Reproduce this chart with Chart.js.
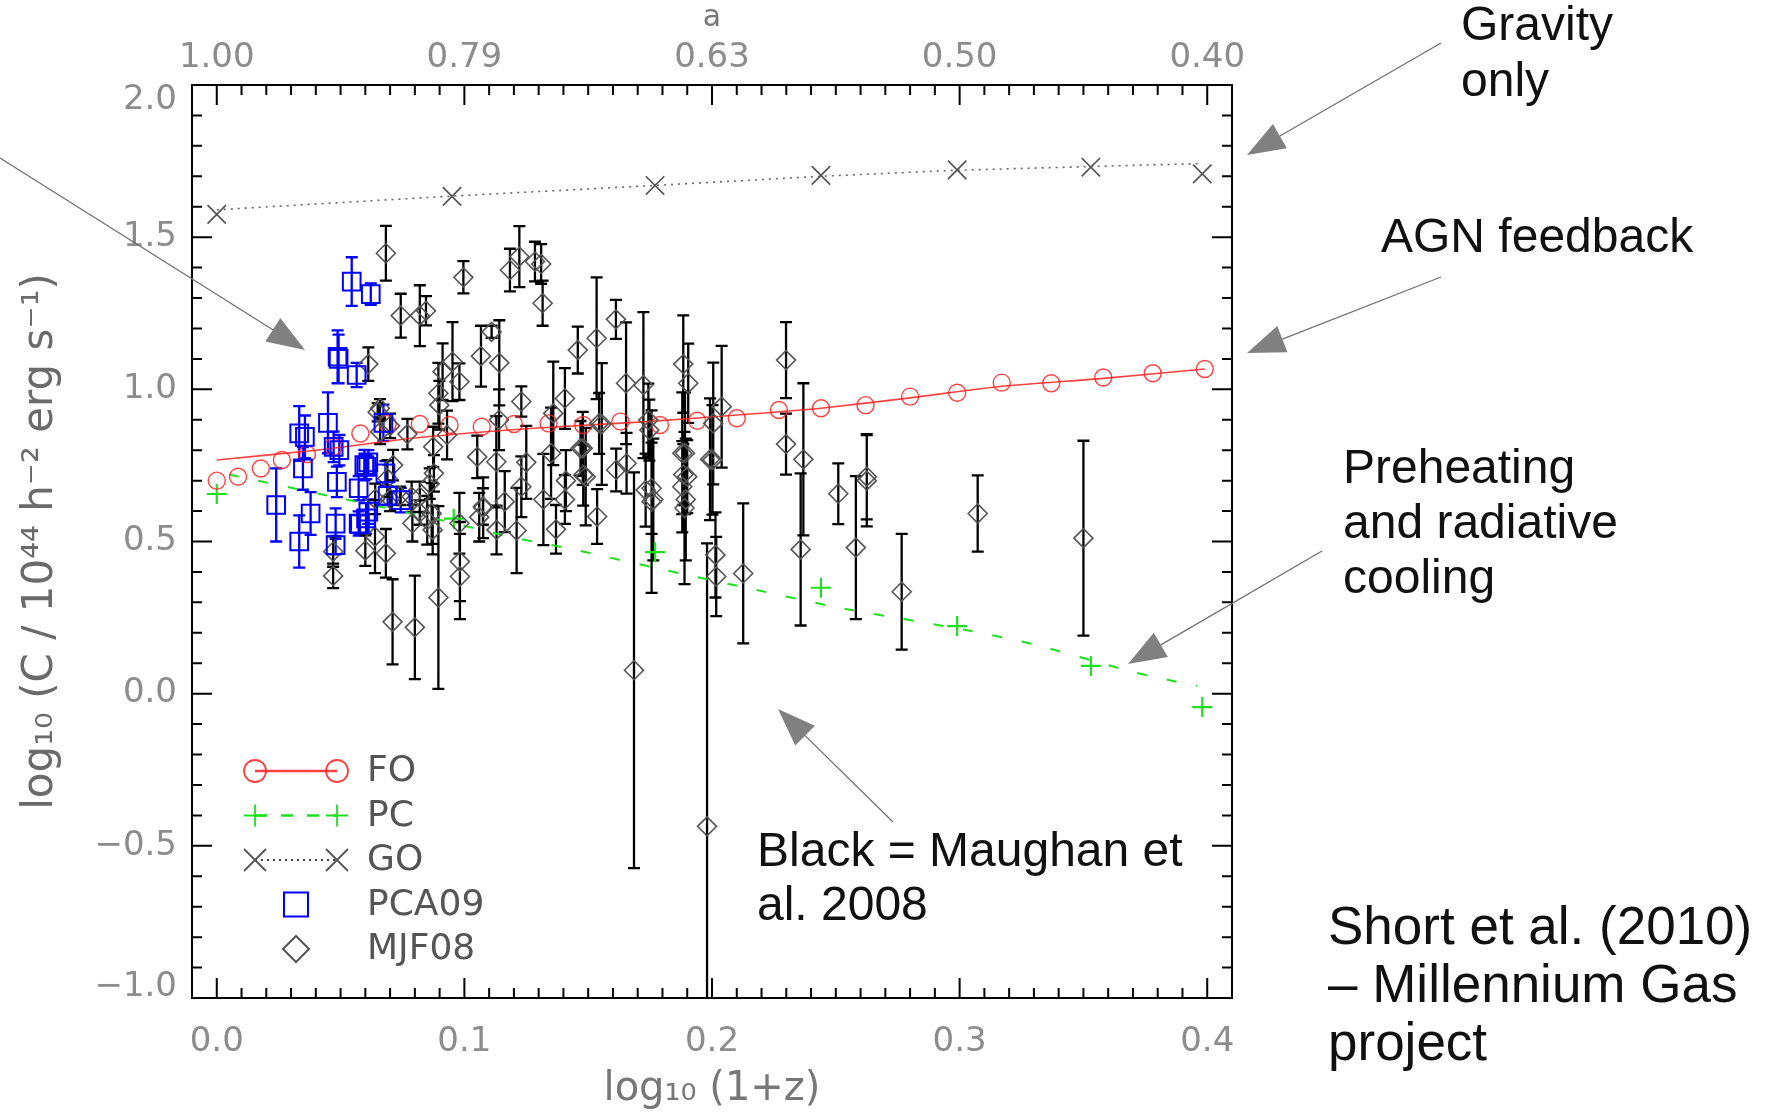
<!DOCTYPE html>
<html>
<head>
<meta charset="utf-8">
<script src="https://cdn.jsdelivr.net/npm/chart.js@4.4.1/dist/chart.umd.min.js"></script>
<style>
  html, body { margin: 0; padding: 0; background: #fff; }
  #wrap { width: 1772px; height: 1114px; position: relative; }
</style>
</head>
<body>
<div id="wrap"><canvas id="cChart"></canvas></div>
<script>
// axis ticks
const xTickVals = [0.0, 0.1, 0.2, 0.3, 0.4];
const aTickLabels = ['1.00', '0.79', '0.63', '0.50', '0.40'];
const yTickVals = [-1.0, -0.5, 0.0, 0.5, 1.0, 1.5, 2.0];

// FO - AGN feedback (markers + line)
const foX = [0.0, 0.0086, 0.0178, 0.0263, 0.0364, 0.047, 0.058, 0.069, 0.082, 0.094, 0.107, 0.12, 0.134, 0.148,
  0.163, 0.179, 0.194, 0.21, 0.227, 0.244, 0.262, 0.28, 0.299, 0.317, 0.337, 0.358, 0.378, 0.399];
const foY = [0.70, 0.713, 0.74, 0.768, 0.787, 0.811, 0.855, 0.886, 0.886, 0.883, 0.877, 0.886, 0.888, 0.883,
  0.894, 0.883, 0.897, 0.905, 0.932, 0.938, 0.948, 0.976, 0.989, 1.022, 1.020, 1.039, 1.053, 1.067];
const foLineX = [0.0, 0.04, 0.08, 0.128, 0.174, 0.214, 0.244, 0.28, 0.317, 0.358, 0.399];
const foLineY = [0.768, 0.80, 0.84, 0.872, 0.894, 0.918, 0.938, 0.972, 1.01, 1.036, 1.067];

// PC - preheating + cooling
const pcX = [0.0, 0.0957, 0.177, 0.244, 0.299, 0.353, 0.398];
const pcY = [0.656, 0.575, 0.465, 0.348, 0.222, 0.091, -0.044];
const pcLineX = [0.005, 0.047, 0.085, 0.118, 0.144, 0.18, 0.215, 0.251, 0.302, 0.331, 0.371, 0.396];
const pcLineY = [0.72, 0.647, 0.581, 0.516, 0.474, 0.408, 0.346, 0.283, 0.21, 0.16, 0.069, 0.025];

// GO - gravity only
const goX = [0.0, 0.095, 0.177, 0.244, 0.299, 0.353, 0.398];
const goY = [1.575, 1.634, 1.67, 1.703, 1.721, 1.73, 1.708];
const goLineX = [0.0, 0.095, 0.177, 0.244, 0.299, 0.353, 0.398];
const goLineY = [1.59, 1.635, 1.67, 1.70, 1.72, 1.732, 1.742];

// PCA09 (blue squares)
const pcaX = [0.0545, 0.0622, 0.0488, 0.0492, 0.0565, 0.0333, 0.0356, 0.0449, 0.0348, 0.0472, 0.0495, 0.0485,
  0.0573, 0.0596, 0.0604, 0.0673, 0.0681, 0.0743, 0.024, 0.0333, 0.0379, 0.048, 0.048, 0.0573, 0.0603, 0.0612,
  0.0612, 0.0578, 0.069];
const pcaY = [1.354, 1.313, 1.107, 1.10, 1.047, 0.855, 0.844, 0.890, 0.740, 0.811, 0.800, 0.696,
  0.675, 0.751, 0.745, 0.890, 0.724, 0.636, 0.62, 0.500, 0.592, 0.559, 0.488, 0.559, 0.576, 0.598,
  0.760, 0.557, 0.650];
const pcaErr = [0.08, 0.035, 0.087, 0.08, 0.04, 0.09, 0.07, 0.10, 0.07, 0.05, 0.05, 0.05,
  0.04, 0.05, 0.04, 0.06, 0.04, 0.04, 0.12, 0.086, 0.07, 0.05, 0.03, 0.04, 0.05, 0.04,
  0.04, 0.03, 0.03];

// MJF08 (black diamonds, Maughan et al. 2008)
const mjfX = [0.0683, 0.0743, 0.082, 0.0845, 0.0996, 0.1184, 0.1222, 0.1285, 0.131, 0.1316, 0.0612, 0.0659,
  0.0912, 0.0952, 0.098, 0.0895, 0.0899, 0.1067, 0.111, 0.1141, 0.1359, 0.1406, 0.1458, 0.1534, 0.1612, 0.1653,
  0.1723, 0.1884, 0.1904, 0.2039, 0.2005, 0.2299, 0.2299, 0.2369, 0.1555, 0.1478, 0.1891, 0.1992, 0.1743, 0.047,
  0.047, 0.0639, 0.0683, 0.071, 0.08, 0.0895, 0.0982, 0.0982, 0.1076, 0.1163, 0.113, 0.1211, 0.1319, 0.1406,
  0.0877, 0.0872, 0.0868, 0.082, 0.0787, 0.065, 0.0712, 0.0689, 0.0874, 0.1052, 0.1075, 0.1129, 0.135, 0.1469,
  0.149, 0.1544, 0.1536, 0.1613, 0.1655, 0.1685, 0.1732, 0.1763, 0.1747, 0.188, 0.188, 0.1894, 0.19, 0.2002,
  0.2014, 0.2017, 0.2126, 0.198, 0.148, 0.2358, 0.251, 0.2581, 0.2625, 0.2625, 0.3073, 0.35, 0.2766, 0.1756,
  0.1756, 0.1884, 0.1889, 0.07, 0.074, 0.079, 0.082, 0.085, 0.086, 0.093, 0.077, 0.07, 0.123, 0.114, 0.125,
  0.123, 0.137, 0.098, 0.106, 0.06, 0.064, 0.141, 0.066];
const mjfY = [1.447, 1.242, 1.242, 1.258, 1.368, 1.392, 1.436, 1.42, 1.412, 1.283, 1.083, 0.938,
  1.058, 1.091, 1.025, 0.987, 0.948, 1.109, 1.189, 1.087, 0.921, 0.97, 1.129, 1.168, 1.23, 1.02,
  1.014, 1.083, 1.02, 0.943, 0.888, 1.096, 0.82, 0.77, 0.886, 0.806, 0.79, 0.77, 0.899, 0.467,
  0.387, 0.516, 0.461, 0.236, 0.218, 0.316, 0.434, 0.385, 0.611, 0.631, 0.538, 0.536, 0.638, 0.638,
  0.724, 0.538, 0.592, 0.647, 0.647, 0.925, 0.751, 0.707, 0.811, 0.778, 0.615, 0.762, 0.79, 0.806,
  0.713, 0.888, 0.582, 0.735, 0.757, 0.077, 0.669, 0.638, 0.866, 0.79, 0.68, 0.638, 0.713, 0.768,
  0.456, 0.385, 0.395, -0.436, 0.718, 0.474, 0.657, 0.48, 0.713, 0.70, 0.592, 0.511, 0.335, 0.675,
  0.631, 0.72, 0.61, 0.64, 0.65, 0.56, 0.595, 0.57, 0.69, 0.85, 0.853, 0.88, 0.96, 0.90, 0.76,
  0.68, 0.54, 0.56, 0.58, 0.47, 0.64, 0.70, 0.86];
const mjfErr = [0.09, 0.072, 0.10, 0.048, 0.053, 0.07, 0.10, 0.065, 0.065, 0.074, 0.055, 0.03,
  0.093, 0.13, 0.06, 0.10, 0.08, 0.10, 0.02, 0.14, 0.17, 0.10, 0.077, 0.20, 0.064, 0.20,
  0.24, 0.16, 0.13, 0.20, 0.20, 0.125, 0.10, 0.25, 0.20, 0.12, 0.20, 0.20, 0.12, 0.05,
  0.04, 0.12, 0.08, 0.14, 0.17, 0.30, 0.13, 0.14, 0.10, 0.10, 0.08, 0.14, 0.15, 0.08,
  0.06, 0.08, 0.10, 0.05, 0.05, 0.03, 0.05, 0.06, 0.066, 0.07, 0.06, 0.15, 0.15, 0.09,
  0.16, 0.10, 0.09, 0.07, 0.10, 0.65, 0.12, 0.20, 0.10, 0.20, 0.15, 0.20, 0.12, 0.18,
  0.14, 0.13, 0.23, 0.93, 0.10, 0.25, 0.10, 0.235, 0.14, 0.15, 0.125, 0.32, 0.19, 0.15,
  0.30, 0.10, 0.25, 0.04, 0.03, 0.06, 0.04, 0.08, 0.05, 0.08, 0.05, 0.04, 0.05, 0.10, 0.12,
  0.10, 0.08, 0.10, 0.08, 0.05, 0.05, 0.10, 0.04];

const pts = (xs, ys) => xs.map((v, i) => ({ x: v, y: ys[i] }));

// colours
const RED = 'rgba(255,30,30,0.85)';
const GREEN = '#1fe01f';
const GREY = '#555555';
const BLUE = '#0000ff';
const TICKGREY = '#8c8c8c';

const fmt = v => (v < 0 ? '\u2212' : '') + Math.abs(v).toFixed(1);

// inward IDL style ticks + box, y labels (end labels pulled inside like IDL)
const boxTicks = {
  id: 'boxTicks',
  afterDraw(chart) {
    const { ctx, chartArea: a, scales } = chart;
    const sx = scales.x, sy = scales.y;
    ctx.save();
    ctx.strokeStyle = '#000';
    ctx.lineWidth = 2;
    ctx.beginPath();
    for (let i = 0; i <= 40; i++) {
      const px = sx.getPixelForValue(i / 100);
      const len = (i % 10 === 0) ? 20 : 10;
      ctx.moveTo(px, a.bottom); ctx.lineTo(px, a.bottom - len);
      ctx.moveTo(px, a.top); ctx.lineTo(px, a.top + len);
    }
    for (let i = -10; i <= 20; i++) {
      const py = sy.getPixelForValue(i / 10);
      const len = (i % 5 === 0) ? 20 : 10;
      ctx.moveTo(a.left, py); ctx.lineTo(a.left + len, py);
      ctx.moveTo(a.right, py); ctx.lineTo(a.right - len, py);
    }
    ctx.stroke();
    ctx.strokeRect(a.left, a.top, a.right - a.left, a.bottom - a.top);

    ctx.fillStyle = TICKGREY;
    ctx.font = '34px "DejaVu Sans"';
    ctx.textAlign = 'right';
    ctx.textBaseline = 'middle';
    yTickVals.forEach(v => {
      let py = sy.getPixelForValue(v);
      py = Math.min(Math.max(py, a.top + 15), a.bottom - 11);
      ctx.fillText(fmt(v), a.left - 15, py);
    });
    ctx.restore();
  }
};

// error bars with caps
const errorBars = {
  id: 'errorBars',
  beforeDatasetsDraw(chart) {
    const { ctx, chartArea: a, scales: { x, y } } = chart;
    chart.data.datasets.forEach((ds, i) => {
      if (!ds.errors || !chart.isDatasetVisible(i)) return;
      ctx.save();
      ctx.beginPath();
      ctx.rect(a.left, a.top, a.right - a.left, a.bottom - a.top);
      ctx.clip();
      ctx.strokeStyle = ds.errColor;
      ctx.lineWidth = 2.3;
      ctx.beginPath();
      ds.data.forEach((p, j) => {
        const e = ds.errors[j];
        const px = x.getPixelForValue(p.x);
        const t = y.getPixelForValue(p.y + e), b = y.getPixelForValue(p.y - e);
        ctx.moveTo(px, t); ctx.lineTo(px, b);
        ctx.moveTo(px - 6, t); ctx.lineTo(px + 6, t);
        ctx.moveTo(px - 6, b); ctx.lineTo(px + 6, b);
      });
      ctx.stroke();
      ctx.restore();
    });
  }
};

// marker drawing for the legend
function marker(ctx, kind, x, y, r) {
  ctx.beginPath();
  if (kind === 'circle') ctx.arc(x, y, r, 0, Math.PI * 2);
  if (kind === 'plus') { ctx.moveTo(x - r, y); ctx.lineTo(x + r, y); ctx.moveTo(x, y - r); ctx.lineTo(x, y + r); }
  if (kind === 'x') { ctx.moveTo(x - r, y - r); ctx.lineTo(x + r, y + r); ctx.moveTo(x - r, y + r); ctx.lineTo(x + r, y - r); }
  if (kind === 'square') ctx.rect(x - r, y - r, 2 * r, 2 * r);
  if (kind === 'diamond') { ctx.moveTo(x, y - r); ctx.lineTo(x + r, y); ctx.lineTo(x, y + r); ctx.lineTo(x - r, y); ctx.closePath(); }
  ctx.stroke();
}

const legendRows = [
  { label: 'FO', kind: 'circle', color: RED, dash: [], pair: true, r: 11 },
  { label: 'PC', kind: 'plus', color: GREEN, dash: [12, 14], pair: true, r: 11 },
  { label: 'GO', kind: 'x', color: GREY, dash: [2, 4], pair: true, r: 11 },
  { label: 'PCA09', kind: 'square', color: BLUE, pair: false, r: 12 },
  { label: 'MJF08', kind: 'diamond', color: GREY, pair: false, r: 13 }
];

const idlLegend = {
  id: 'idlLegend',
  afterDraw(chart) {
    const { ctx, chartArea: a } = chart;
    ctx.save();
    legendRows.forEach((row, k) => {
      const yy = a.bottom - 227 + k * 44.5;
      const x1 = a.left + 63, x2 = a.left + 145;
      ctx.strokeStyle = row.color;
      ctx.lineWidth = 2;
      if (row.pair) {
        ctx.setLineDash(row.dash);
        ctx.strokeStyle = row.kind === 'x' ? '#000' : row.color;
        ctx.lineWidth = row.kind === 'x' ? 1.5 : 2.5;
        ctx.beginPath(); ctx.moveTo(x1, yy); ctx.lineTo(x2, yy); ctx.stroke();
        ctx.setLineDash([]);
        ctx.strokeStyle = row.color;
        ctx.lineWidth = 1.8;
        marker(ctx, row.kind, x1, yy, row.r);
        marker(ctx, row.kind, x2, yy, row.r);
      } else {
        marker(ctx, row.kind, (x1 + x2) / 2, yy, row.r);
      }
      ctx.fillStyle = '#555';
      ctx.font = '36px "DejaVu Sans"';
      ctx.textBaseline = 'middle';
      ctx.fillText(row.label, a.left + 175, yy + 1);
    });
    ctx.restore();
  }
};

// annotation texts and arrows (canvas pixels)
const noteTexts = [
  { lines: ['Gravity', 'only'], x: 1461, y: 27, size: 48, gap: 56 },
  { lines: ['AGN feedback'], x: 1381, y: 239, size: 48, gap: 56 },
  { lines: ['Preheating', 'and radiative', 'cooling'], x: 1343, y: 470, size: 48, gap: 55 },
  { lines: ['Black = Maughan et', 'al. 2008'], x: 757, y: 853, size: 48, gap: 54 },
  { lines: ['Short et al. (2010)', '\u2013 Millennium Gas', 'project'], x: 1328, y: 929, size: 53, gap: 58 }
];
const noteArrows = [
  { from: [1441, 43], to: [1247, 155] },
  { from: [1441, 277], to: [1247, 353] },
  { from: [1322, 551], to: [1128, 664] },
  { from: [893, 822], to: [778, 709] },
  { from: [0, 158], to: [305, 350] }
];

const notes = {
  id: 'notes',
  afterDraw(chart) {
    const { ctx } = chart;
    ctx.save();
    ctx.fillStyle = '#111';
    ctx.textBaseline = 'middle';
    noteTexts.forEach(n => {
      ctx.font = n.size + 'px "Liberation Sans"';
      n.lines.forEach((s, i) => ctx.fillText(s, n.x, n.y + i * n.gap));
    });
    noteArrows.forEach(ar => {
      const [x0, y0] = ar.from, [x1, y1] = ar.to;
      const ang = Math.atan2(y1 - y0, x1 - x0);
      const L = 38, W = 14;
      const bx = x1 - L * Math.cos(ang), by = y1 - L * Math.sin(ang);
      ctx.strokeStyle = '#707070';
      ctx.lineWidth = 1.3;
      ctx.beginPath(); ctx.moveTo(x0, y0); ctx.lineTo(bx, by); ctx.stroke();
      ctx.fillStyle = '#808080';
      ctx.beginPath();
      ctx.moveTo(x1, y1);
      ctx.lineTo(bx + W * Math.sin(ang), by - W * Math.cos(ang));
      ctx.lineTo(bx - W * Math.sin(ang), by + W * Math.cos(ang));
      ctx.closePath();
      ctx.fill();
    });
    ctx.restore();
  }
};

const tickFont = { family: 'DejaVu Sans', size: 34 };

new Chart(document.getElementById('cChart'), {
  type: 'scatter',
  data: {
    datasets: [
      {
        label: 'PCA09', data: pts(pcaX, pcaY), errors: pcaErr, errColor: BLUE,
        pointStyle: 'rect', pointRadius: 12.5, borderColor: BLUE, borderWidth: 2,
        backgroundColor: 'transparent', showLine: false
      },
      {
        label: 'MJF08', data: pts(mjfX, mjfY), errors: mjfErr, errColor: '#000',
        pointStyle: 'rectRot', pointRadius: 9.5, borderColor: GREY, borderWidth: 1.6,
        backgroundColor: 'transparent', showLine: false
      },
      {
        label: 'FO', data: pts(foX, foY), pointStyle: 'circle', pointRadius: 8.5,
        borderColor: RED, borderWidth: 1.4, backgroundColor: 'transparent', showLine: false
      },
      {
        label: 'FO line', type: 'line', data: pts(foLineX, foLineY), pointRadius: 0,
        borderColor: RED, borderWidth: 1.6, fill: false, tension: 0.2
      },
      {
        label: 'PC', data: pts(pcX, pcY), pointStyle: 'cross', pointRadius: 10,
        borderColor: GREEN, borderWidth: 2.2, showLine: false
      },
      {
        label: 'PC line', type: 'line', data: pts(pcLineX, pcLineY), pointRadius: 0,
        borderColor: GREEN, borderWidth: 2, borderDash: [10, 20], fill: false, tension: 0.2
      },
      {
        label: 'GO', data: pts(goX, goY), pointStyle: 'crossRot', pointRadius: 13,
        borderColor: GREY, borderWidth: 1.7, showLine: false
      },
      {
        label: 'GO line', type: 'line', data: pts(goLineX, goLineY), pointRadius: 0,
        borderColor: '#666', borderWidth: 1.6, borderDash: [2, 5], fill: false
      }
    ]
  },
  options: {
    responsive: true,
    maintainAspectRatio: false,
    animation: false,
    layout: { padding: 0 },
    plugins: { legend: { display: false }, tooltip: { enabled: false } },
    scales: {
      x: {
        type: 'linear', position: 'bottom', min: -0.01, max: 0.41,
        afterBuildTicks: s => { s.ticks = xTickVals.map(v => ({ value: v })); },
        afterFit: s => { s.height = 116; },
        grid: { display: false, drawTicks: false },
        border: { display: false },
        ticks: { color: TICKGREY, font: tickFont, padding: 24, maxRotation: 0, callback: v => v.toFixed(1) },
        title: { display: true, text: 'log\u2081\u2080 (1+z)', color: '#777', font: { family: 'DejaVu Sans', size: 40 }, padding: { bottom: 0 } }
      },
      x2: {
        type: 'linear', position: 'top', min: -0.01, max: 0.41,
        afterBuildTicks: s => { s.ticks = xTickVals.map(v => ({ value: v })); },
        afterFit: s => { s.height = 85; },
        grid: { display: false, drawTicks: false },
        border: { display: false },
        ticks: { color: TICKGREY, font: tickFont, padding: 6, maxRotation: 0,
          callback: (v, i) => aTickLabels[i] },
        title: { display: true, text: 'a', color: '#777', font: { family: 'DejaVu Sans', size: 30 }, padding: { top: 0 } }
      },
      y: {
        type: 'linear', position: 'left', min: -1, max: 2,
        afterBuildTicks: s => { s.ticks = yTickVals.map(v => ({ value: v })); },
        afterFit: s => { s.width = 192; },
        grid: { display: false, drawTicks: false },
        border: { display: false },
        ticks: { display: false },
        title: { display: true, text: 'log\u2081\u2080 (C / 10\u2074\u2074 h\u207B\u00B2 erg s\u207B\u00B9)', color: '#6a6a6a',
          font: { family: 'DejaVu Sans', size: 42 }, padding: { top: 16 } }
      },
      y2: {
        type: 'linear', position: 'right', min: -1, max: 2,
        afterFit: s => { s.width = 540; },
        grid: { display: false, drawTicks: false },
        border: { display: false },
        ticks: { display: false }
      }
    }
  },
  plugins: [errorBars, boxTicks, idlLegend, notes]
});
</script>
</body>
</html>
